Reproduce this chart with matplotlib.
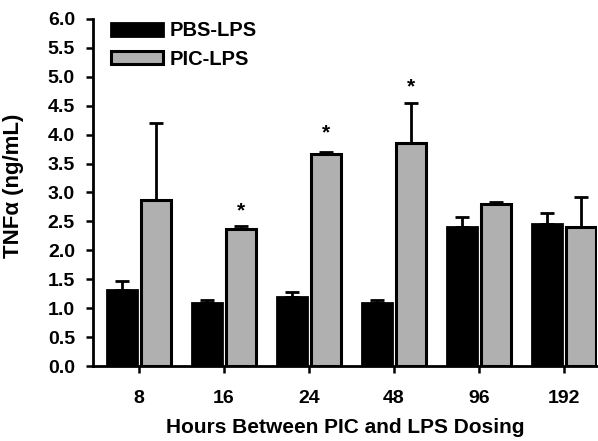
import matplotlib
matplotlib.use("Agg")
import matplotlib.pyplot as plt
import numpy as np

plt.rcParams['font.family'] = ['Liberation Sans', 'DejaVu Sans']
plt.rcParams['font.weight'] = 'bold'

hours = ["8", "16", "24", "48", "96", "192"]
pbs_mean = [1.31, 1.09, 1.19, 1.09, 2.40, 2.46]
pbs_err = [0.16, 0.05, 0.09, 0.05, 0.18, 0.19]
pic_mean = [2.87, 2.37, 3.67, 3.86, 2.80, 2.40]
pic_err = [1.33, 0.05, 0.03, 0.69, 0.04, 0.52]
star_y = [None, 2.68, 4.03, 4.83, None, None]

fig = plt.figure(figsize=(5.98, 4.41), dpi=100)
ax = fig.add_axes([0.1555, 0.170, 0.843, 0.787])

x = np.arange(len(hours))
w = 0.36
ekw = dict(ecolor='black', elinewidth=2, capsize=5, capthick=2)
ax.bar(x - 0.2, pbs_mean, w, color='black', edgecolor='black', linewidth=2,
       yerr=[np.zeros(len(hours)), pbs_err], error_kw=ekw, label='PBS-LPS', zorder=2)
ax.bar(x + 0.2, pic_mean, w, color='#b0b0b0', edgecolor='black', linewidth=2.2,
       yerr=[np.zeros(len(hours)), pic_err], error_kw=ekw, label='PIC-LPS', zorder=2)

for i, s in enumerate(star_y):
    if s is not None:
        ax.text(x[i] + 0.2, s, '*', ha='center', va='center', fontsize=15, fontweight='bold')

ax.set_xlim(-0.54, 5.39)
ax.set_ylim(0, 6.0)
ticks = np.arange(0, 6.01, 0.5)
ax.set_yticks(ticks)
ax.set_yticklabels([f"{v:.1f}" for v in ticks])
ax.set_xticks(x)
ax.set_xticklabels(hours)
ax.tick_params(axis='both', labelsize=14, width=1.8, length=5, direction='out')
ax.tick_params(axis='x', pad=12)
ax.tick_params(axis='y', pad=8)

for sp in ['top', 'right']:
    ax.spines[sp].set_visible(False)
for sp in ['left', 'bottom']:
    ax.spines[sp].set_linewidth(2)

ax.set_ylabel('TNFα (ng/mL)', fontsize=16, fontweight='bold')
ax.yaxis.set_label_coords(-0.137, 0.52)
ax.set_xlabel('Hours Between PIC and LPS Dosing', fontsize=15, fontweight='bold', labelpad=8)

leg = ax.legend(loc='upper left', bbox_to_anchor=(0.0, 1.045), frameon=False, fontsize=14.5,
                handlelength=2.6, handleheight=0.6, handletextpad=0.3, labelspacing=0.45)

fig.savefig('out.png', dpi=100)
